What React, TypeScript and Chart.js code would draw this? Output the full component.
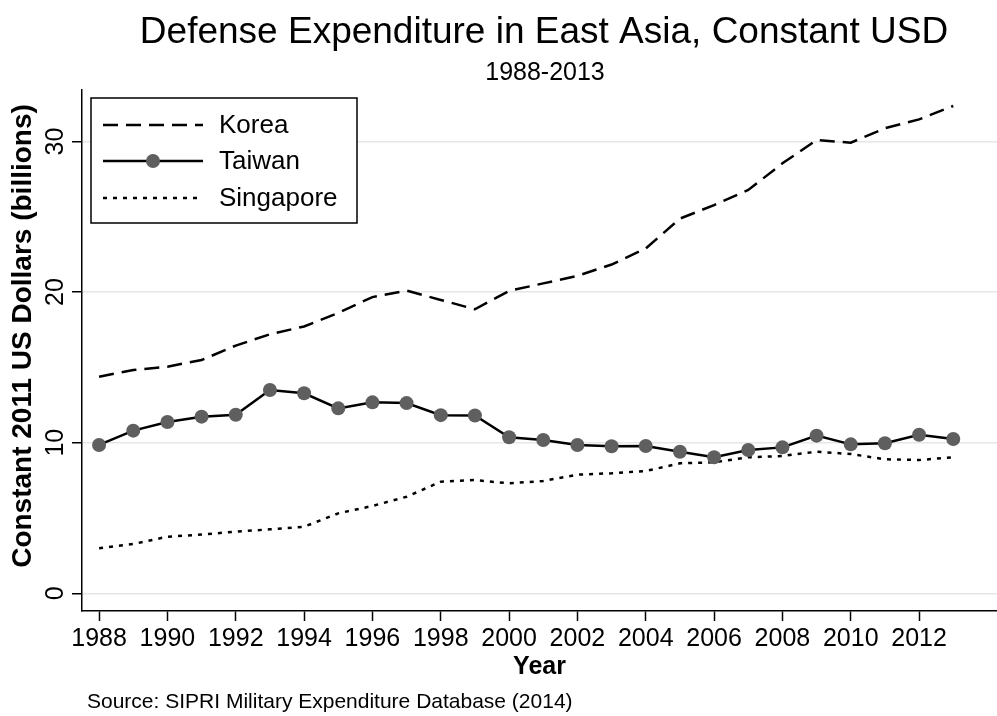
import React, { useEffect, useRef } from "react";
import { Chart, registerables } from "chart.js";

Chart.register(...registerables);

// ---- data ----
const years = [1988, 1989, 1990, 1991, 1992, 1993, 1994, 1995, 1996, 1997, 1998, 1999, 2000, 2001, 2002, 2003, 2004, 2005, 2006, 2007, 2008, 2009, 2010, 2011, 2012, 2013];
const korea = [14.38, 14.83, 15.05, 15.49, 16.45, 17.2, 17.72, 18.62, 19.67, 20.1, 19.48, 18.86, 20.08, 20.58, 21.08, 21.83, 22.9, 24.88, 25.78, 26.78, 28.55, 30.1, 29.92, 30.88, 31.47, 32.36];
const taiwan = [9.85, 10.8, 11.37, 11.73, 11.86, 13.5, 13.28, 12.28, 12.68, 12.63, 11.83, 11.81, 10.36, 10.18, 9.85, 9.76, 9.78, 9.4, 9.03, 9.52, 9.69, 10.47, 9.89, 9.96, 10.53, 10.25];
const singapore = [2.99, 3.27, 3.76, 3.9, 4.09, 4.25, 4.42, 5.31, 5.8, 6.41, 7.41, 7.52, 7.3, 7.46, 7.88, 7.97, 8.12, 8.63, 8.7, 9.03, 9.12, 9.4, 9.25, 8.9, 8.85, 9.03];
const seriesNames = ["Korea", "Taiwan", "Singapore"];
const xTickValues = [1988, 1990, 1992, 1994, 1996, 1998, 2000, 2002, 2004, 2006, 2008, 2010, 2012];
const yTickValues = [0, 10, 20, 30];
const titleText = "Defense Expenditure in East Asia, Constant USD";
const subtitleText = "1988-2013";
const xTitleText = "Year";
const yTitleText = "Constant 2011 US Dollars (billions)";
const sourceText = "Source: SIPRI Military Expenditure Database (2014)";

const FONT = "'Liberation Sans', Arial, Helvetica, sans-serif";
const MARKER = "#5f5f5f";
const KOREA_DASH = [15, 8];
const SING_DASH = [4, 6];

const toPoints = (vals: number[]) => years.map((yr, i) => ({ x: yr, y: vals[i] }));

const decorPlugin = {
  id: "decor",
  afterDraw(chart: any) {
    const ctx = chart.ctx;
    ctx.save();
    ctx.fillStyle = "#000";
    ctx.textAlign = "center";
    ctx.textBaseline = "alphabetic";
    ctx.font = `37px ${FONT}`;
    ctx.fillText(titleText, 544, 43);
    ctx.font = `25px ${FONT}`;
    ctx.fillText(subtitleText, 545, 80);
    ctx.textAlign = "left";
    ctx.font = `21px ${FONT}`;
    ctx.fillText(sourceText, 87, 708);

    // y-axis title
    ctx.save();
    ctx.translate(23, 336);
    ctx.rotate(-Math.PI / 2);
    ctx.textAlign = "center";
    ctx.textBaseline = "middle";
    ctx.font = `bold 28px ${FONT}`;
    ctx.fillText(yTitleText, 0, 0);
    ctx.restore();

    // legend box
    ctx.strokeStyle = "#000";
    ctx.lineWidth = 1.5;
    ctx.setLineDash([]);
    ctx.fillStyle = "#fff";
    ctx.fillRect(91, 98, 266, 125);
    ctx.strokeRect(91, 98, 266, 125);
    const rows = [125, 161, 198];
    const dashes = [KOREA_DASH, [], SING_DASH];
    ctx.font = `26px ${FONT}`;
    ctx.textBaseline = "middle";
    rows.forEach((ry, i) => {
      ctx.setLineDash(dashes[i]);
      ctx.lineWidth = 2.5;
      ctx.strokeStyle = "#000";
      ctx.beginPath();
      ctx.moveTo(103, ry);
      ctx.lineTo(203, ry);
      ctx.stroke();
      ctx.setLineDash([]);
      if (i === 1) {
        ctx.fillStyle = MARKER;
        ctx.beginPath();
        ctx.arc(153, ry, 7, 0, Math.PI * 2);
        ctx.fill();
      }
      ctx.fillStyle = "#000";
      ctx.fillText(seriesNames[i], 219, ry + 1);
    });
    ctx.restore();
  },
};

export default function App() {
  const ref = useRef<HTMLCanvasElement | null>(null);
  useEffect(() => {
    if (!ref.current) return;
    const chart = new Chart(ref.current, {
      type: "line",
      data: {
        datasets: [
          {
            label: seriesNames[0],
            data: toPoints(korea),
            borderColor: "#000",
            borderWidth: 2.5,
            borderDash: KOREA_DASH,
            pointRadius: 0,
            fill: false,
          },
          {
            label: seriesNames[1],
            data: toPoints(taiwan),
            borderColor: "#000",
            borderWidth: 2.5,
            pointRadius: 7,
            pointBackgroundColor: MARKER,
            pointBorderWidth: 0,
            fill: false,
          },
          {
            label: seriesNames[2],
            data: toPoints(singapore),
            borderColor: "#000",
            borderWidth: 2.5,
            borderDash: SING_DASH,
            pointRadius: 0,
            fill: false,
          },
        ],
      },
      options: {
        responsive: false,
        animation: false,
        devicePixelRatio: 1,
        layout: { autoPadding: false, padding: { top: 90, left: 0, right: 0, bottom: 0 } },
        plugins: {
          legend: { display: false },
          title: { display: false },
          tooltip: { enabled: false },
        },
        scales: {
          x: {
            type: "linear",
            min: 1987.5,
            max: 2014.28,
            afterBuildTicks: (scale: any) => {
              scale.ticks = xTickValues.map((v) => ({ value: v }));
            },
            afterFit: (scale: any) => {
              scale.height = 105;
              scale.paddingLeft = 0;
              scale.paddingRight = 0;
            },
            grid: {
              drawOnChartArea: false,
              drawTicks: true,
              tickLength: 10,
              tickColor: "#000",
              tickWidth: 1.5,
            },
            border: { display: true, color: "#000", width: 1.5 },
            ticks: {
              color: "#000",
              font: { family: FONT, size: 25 },
              padding: 3,
              maxRotation: 0,
              minRotation: 0,
              autoSkip: false,
              callback: (v: any) => String(v),
            },
            title: {
              display: true,
              text: xTitleText,
              color: "#000",
              font: { family: FONT, size: 25, weight: "bold" },
              padding: { top: 0, bottom: 34 },
            },
          },
          y: {
            type: "linear",
            min: -1.175,
            max: 33.42,
            afterBuildTicks: (scale: any) => {
              scale.ticks = yTickValues.map((v) => ({ value: v }));
            },
            afterFit: (scale: any) => {
              scale.width = 82;
              scale.paddingTop = 0;
              scale.paddingBottom = 0;
            },
            grid: {
              color: "#e6e6e6",
              lineWidth: 1.5,
              drawTicks: true,
              tickLength: 10,
              tickColor: "#000",
              tickWidth: 1.5,
            },
            border: { display: true, color: "#000", width: 1.5 },
            ticks: {
              color: "#000",
              font: { family: FONT, size: 25 },
              padding: 2,
              minRotation: 90,
              maxRotation: 90,
              crossAlign: "center",
              autoSkip: false,
              callback: (v: any) => String(v),
            },
            title: { display: false },
          },
        },
      },
      plugins: [decorPlugin],
    } as any);
    return () => chart.destroy();
  }, []);

  return (
    <div style={{ position: "absolute", left: 0, top: 0, width: 997, height: 716, background: "#fff" }}>
      <canvas ref={ref} width={997} height={716} style={{ display: "block" }} />
    </div>
  );
}
